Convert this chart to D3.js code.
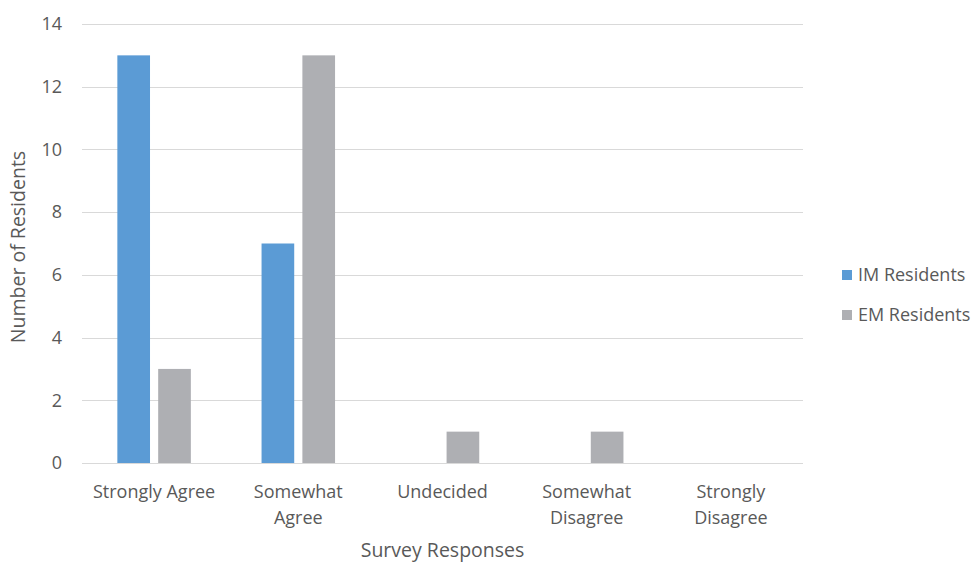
<!DOCTYPE html>
<meta charset="utf-8">
<html>
<head>
    <script src="https://d3js.org/d3.v7.min.js"></script>
    <style>
        body { margin: 0; background: #fff; }
        text { font-family: "Open Sans", sans-serif; fill: #595959; }
    </style>
</head>
<body>
<script>
    // chart data
    var categories = ["Strongly Agree", "Somewhat Agree", "Undecided", "Somewhat Disagree", "Strongly Disagree"];
    var categoryLines = [["Strongly Agree"], ["Somewhat", "Agree"], ["Undecided"], ["Somewhat", "Disagree"], ["Strongly", "Disagree"]];
    var series = ["IM Residents", "EM Residents"];
    var imValues = [13, 7, 0, 0, 0];
    var emValues = [3, 13, 1, 1, 0];
    var yTicks = [0, 2, 4, 6, 8, 10, 12, 14];
    var colors = ["#5B9BD5", "#AEAFB3"];

    let width = 977, height = 563;
    const margin = {top: 24, right: 174, bottom: 100, left: 82};

    var svg = d3.select("body").append("svg")
        .attr("width", width)
        .attr("height", height);

    var x0 = d3.scaleBand()
        .domain(categories)
        .range([margin.left, width - margin.right]);

    var groupWidth = 73.5;
    var x1 = d3.scaleBand()
        .domain(series)
        .range([0, groupWidth])
        .paddingInner(0.2);

    var y = d3.scaleLinear()
        .domain([0, 14])
        .range([height - margin.bottom, margin.top]);

    // gridlines
    svg.append("g")
        .selectAll("line")
        .data(yTicks)
        .join("line")
        .attr("x1", margin.left)
        .attr("x2", width - margin.right)
        .attr("y1", d => Math.round(y(d)) + 0.5)
        .attr("y2", d => Math.round(y(d)) + 0.5)
        .attr("stroke", "#D9D9D9")
        .attr("stroke-width", 1);

    // y tick labels
    svg.append("g")
        .selectAll("text")
        .data(yTicks)
        .join("text")
        .attr("x", 62)
        .attr("y", d => y(d))
        .attr("dy", "0.35em")
        .attr("text-anchor", "end")
        .style("font-size", "18px")
        .text(d => d);

    // bars
    var rows = categories.map(function(c, i) {
        return {cat: c, vals: [imValues[i], emValues[i]]};
    });

    var groups = svg.append("g")
        .selectAll("g")
        .data(rows)
        .join("g")
        .attr("transform", d => `translate(${x0(d.cat) + (x0.bandwidth() - groupWidth) / 2},0)`);

    groups.selectAll("rect")
        .data(d => d.vals.map((v, j) => ({s: series[j], v: v, j: j})))
        .join("rect")
        .attr("x", d => x1(d.s))
        .attr("width", x1.bandwidth())
        .attr("y", d => y(d.v))
        .attr("height", d => y(0) - y(d.v))
        .attr("fill", d => colors[d.j]);

    // category labels
    var catLabels = svg.append("g")
        .selectAll("text")
        .data(categories)
        .join("text")
        .attr("x", d => x0(d) + x0.bandwidth() / 2)
        .attr("y", 498)
        .attr("text-anchor", "middle")
        .style("font-size", "18px");

    catLabels.selectAll("tspan")
        .data((d, i) => categoryLines[i])
        .join("tspan")
        .attr("x", function() { return d3.select(this.parentNode).attr("x"); })
        .attr("dy", (d, i) => i === 0 ? 0 : 26)
        .text(d => d);

    // axis titles
    svg.append("text")
        .attr("x", (margin.left + width - margin.right) / 2)
        .attr("y", 557)
        .attr("text-anchor", "middle")
        .style("font-size", "19.5px")
        .text("Survey Responses");

    svg.append("text")
        .attr("transform", "translate(25,247) rotate(-90)")
        .attr("text-anchor", "middle")
        .style("font-size", "19.5px")
        .text("Number of Residents");

    // legend
    var legend = svg.append("g")
        .attr("transform", "translate(842,270)");

    var items = legend.selectAll("g")
        .data(series)
        .join("g")
        .attr("transform", (d, i) => `translate(0,${i * 40})`);

    items.append("rect")
        .attr("width", 10)
        .attr("height", 10)
        .attr("fill", (d, i) => colors[i]);

    items.append("text")
        .attr("x", 16)
        .attr("y", 5)
        .attr("dy", "0.35em")
        .style("font-size", "18px")
        .text(d => d);
</script>
</body>
</html>
